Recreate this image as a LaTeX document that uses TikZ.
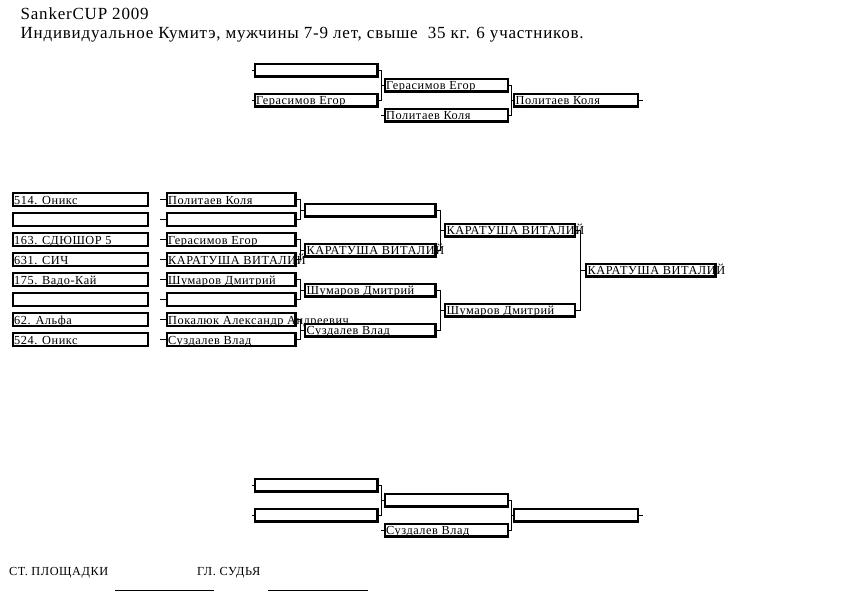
\documentclass[tikz,border=0pt]{standalone}
\usepackage{fontspec}
\setmainfont{Liberation Serif}
\newfontfamily\bxfont[LetterSpace=4.5]{Liberation Serif}
\newfontfamily\ttlfont[LetterSpace=4.6]{Liberation Serif}
\tikzset{
  bx/.style={draw=black, fill=white, line width=2.1pt, inner sep=0pt, minimum height=12.9pt},
  txt/.style={anchor=base west, inner sep=0pt, font=\bxfont\fontsize{12.3}{14}\selectfont},
  ttl/.style={anchor=base west, inner sep=0pt, font=\ttlfont\fontsize{17}{19}\selectfont},
  conn/.style={draw=black, line width=0.7pt},
}
% name, left, top, width, text
\newcommand\mybox[5]{%
  \node[bx, minimum width={#4-2.1}] (#1) at ({#2+#4/2},{#3+7.5}) {};
  \node[txt] (#1t) at ({#2+2.5},{#3+12}) {#5};
}
\newcommand\myboxe[4]{%
  \node[bx, minimum width={#4-2.1}] (#1) at ({#2+#4/2},{#3+7.5}) {};
}
\begin{document}
\begin{tikzpicture}[x=1pt,y=-1pt]
\useasboundingbox (0,0) rectangle (842,595);
\fill[white] (0,0) rectangle (842,595);

% title
\node[ttl] (title1) at (20.5,19) {SankerCUP 2009};
\node[ttl] (title2) at (20.5,38.5) {Индивидуальное Кумитэ, мужчины 7-9 лет, свыше~ 35 кг. 6 участников.};

% helper coordinates
\coordinate (tl) at (251.5,0);
\coordinate (vt1) at (381,0);
\coordinate (vt2) at (511,0);
\coordinate (tr) at (643,0);
\coordinate (tc2) at (160,0);
\coordinate (vm1) at (300.5,0);
\coordinate (vm2) at (440,0);
\coordinate (vm3) at (580.5,0);

% ---- top bracket
\myboxe{ta1}{253.5}{62.5}{125}
\mybox{ta2}{253.5}{92.5}{125}{Герасимов Егор}
\mybox{tb1}{383.5}{77.5}{125.5}{Герасимов Егор}
\mybox{tb2}{383.5}{107.5}{125.5}{Политаев Коля}
\mybox{tf}{513}{92.5}{126}{Политаев Коля}

% ---- bottom bracket
\myboxe{ba1}{253.5}{477.5}{125}
\myboxe{ba2}{253.5}{507.5}{125}
\myboxe{bb1}{383.5}{492.5}{125.5}
\mybox{bb2}{383.5}{522.5}{125.5}{Суздалев Влад}
\myboxe{bf}{513}{507.5}{126}

% ---- main bracket, column 1
\mybox{a1}{11.5}{192}{137.5}{514. Оникс}
\myboxe{a2}{11.5}{212}{137.5}
\mybox{a3}{11.5}{232}{137.5}{163. СДЮШОР 5}
\mybox{a4}{11.5}{252}{137.5}{631. СИЧ}
\mybox{a5}{11.5}{272}{137.5}{175. Вадо-Кай}
\myboxe{a6}{11.5}{292}{137.5}
\mybox{a7}{11.5}{312}{137.5}{62. Альфа}
\mybox{a8}{11.5}{332}{137.5}{524. Оникс}

% column 2
\mybox{b1}{165.5}{192}{131}{Политаев Коля}
\myboxe{b2}{165.5}{212}{131}
\mybox{b3}{165.5}{232}{131}{Герасимов Егор}
\mybox{b4}{165.5}{252}{131}{КАРАТУША ВИТАЛИЙ}
\mybox{b5}{165.5}{272}{131}{Шумаров Дмитрий}
\myboxe{b6}{165.5}{292}{131}
\mybox{b7}{165.5}{312}{131}{Покалюк Александр Андреевич}
\mybox{b8}{165.5}{332}{131}{Суздалев Влад}

% column 3
\myboxe{c1}{304}{202.5}{132.5}
\mybox{c2}{304}{242.5}{132.5}{КАРАТУША ВИТАЛИЙ}
\mybox{c3}{304}{282.5}{132.5}{Шумаров Дмитрий}
\mybox{c4}{304}{322.5}{132.5}{Суздалев Влад}

% column 4
\mybox{d1}{444}{222.5}{132}{КАРАТУША ВИТАЛИЙ}
\mybox{d2}{444}{302.5}{132}{Шумаров Дмитрий}

% column 5
\mybox{e1}{585}{262.5}{131.5}{КАРАТУША ВИТАЛИЙ}

% ---- connectors: top bracket
\draw[conn] (ta1.west) -- (ta1.west -| tl);
\draw[conn] (ta2.west) -- (ta2.west -| tl);
\draw[conn] (ta1.east) -| (vt1 |- ta2.east) -- (ta2.east);
\draw[conn] (tb1.west) -- (tb1.west -| vt1);
\draw[conn] (tb2.west) -- (tb2.west -| vt1);
\draw[conn] (tb1.east) -| (vt2 |- tb2.east) -- (tb2.east);
\draw[conn] (tf.west) -- (tf.west -| vt2);
\draw[conn] (tf.east) -- (tf.east -| tr);

% ---- connectors: bottom bracket
\draw[conn] (ba1.west) -- (ba1.west -| tl);
\draw[conn] (ba2.west) -- (ba2.west -| tl);
\draw[conn] (ba1.east) -| (vt1 |- ba2.east) -- (ba2.east);
\draw[conn] (bb1.west) -- (bb1.west -| vt1);
\draw[conn] (bb2.west) -- (bb2.west -| vt1);
\draw[conn] (bb1.east) -| (vt2 |- bb2.east) -- (bb2.east);
\draw[conn] (bf.west) -- (bf.west -| vt2);
\draw[conn] (bf.east) -- (bf.east -| tr);

% ---- connectors: main bracket
\foreach \n in {b1,b2,b3,b4,b5,b6,b7,b8}{
  \draw[conn] (\n.west) -- (\n.west -| tc2);
}
\draw[conn] (b1.east) -| (vm1 |- b2.east) -- (b2.east);
\draw[conn] (b3.east) -| (vm1 |- b4.east) -- (b4.east);
\draw[conn] (b5.east) -| (vm1 |- b6.east) -- (b6.east);
\draw[conn] (b7.east) -| (vm1 |- b8.east) -- (b8.east);
\foreach \n in {c1,c2,c3,c4}{
  \draw[conn] (\n.west) -- (\n.west -| vm1);
}
\draw[conn] (c1.east) -| (vm2 |- c2.east) -- (c2.east);
\draw[conn] (c3.east) -| (vm2 |- c4.east) -- (c4.east);
\draw[conn] (d1.west) -- (d1.west -| vm2);
\draw[conn] (d2.west) -- (d2.west -| vm2);
\draw[conn] (d1.east) -| (vm3 |- d2.east) -- (d2.east);
\draw[conn] (e1.west) -- (e1.west -| vm3);

% ---- footer
\node[txt] (f1) at (9,575) {СТ. ПЛОЩАДКИ};
\node[txt] (f2) at (197,575) {ГЛ. СУДЬЯ};
\coordinate (s1a) at (115,590.5);
\coordinate (s1b) at (214,590.5);
\coordinate (s2a) at (268,590.5);
\coordinate (s2b) at (368,590.5);
\draw[line width=0.9pt] (s1a) -- (s1b);
\draw[line width=0.9pt] (s2a) -- (s2b);
\end{tikzpicture}
\end{document}
